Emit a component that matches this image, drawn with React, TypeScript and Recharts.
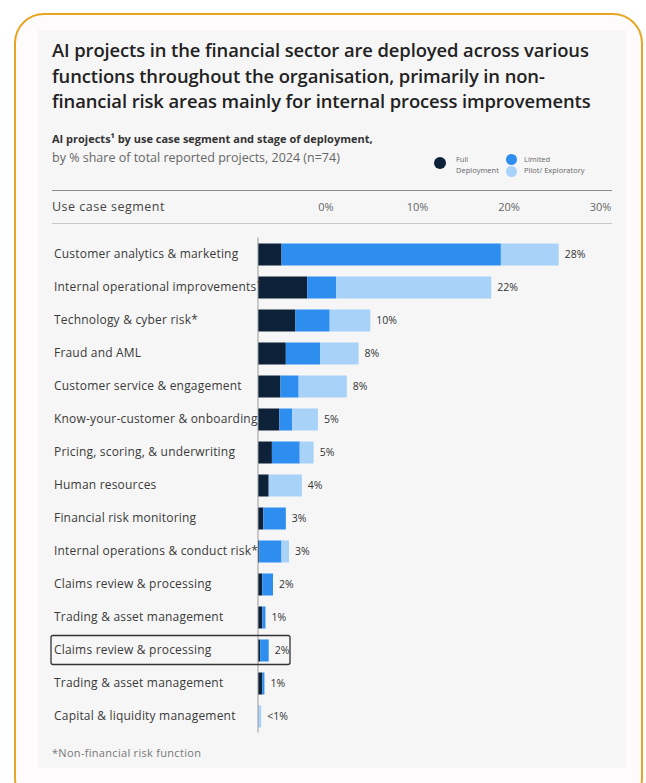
import React from 'react';
import { BarChart, Bar, XAxis, YAxis, LabelList } from 'recharts';

const categories = [
  'Customer analytics & marketing',
  'Internal operational improvements\u00b9',
  'Technology & cyber risk*',
  'Fraud and AML',
  'Customer service & engagement',
  'Know-your-customer & onboarding',
  'Pricing, scoring, & underwriting',
  'Human resources',
  'Financial risk monitoring',
  'Internal operations & conduct risk*',
  'Claims review & processing',
  'Trading & asset management',
  'Claims review & processing',
  'Trading & asset management',
  'Capital & liquidity management',
];

const fullDeployment = [2.2, 4.6, 3.5, 2.6, 2.1, 2.0, 1.3, 1.0, 0.5, 0.1, 0.4, 0.4, 0.2, 0.4, 0];
const limited = [20.5, 2.7, 3.2, 3.2, 1.7, 1.2, 2.6, 0, 2.1, 2.1, 1.0, 0.3, 0.8, 0.2, 0];
const pilot = [5.4, 14.5, 3.8, 3.6, 4.5, 2.4, 1.3, 3.1, 0, 0.7, 0, 0, 0, 0, 0.3];
const totalLabels = ['28%', '22%', '10%', '8%', '8%', '5%', '5%', '4%', '3%', '3%', '2%', '1%', '2%', '1%', '<1%'];
const highlighted = [false, false, false, false, false, false, false, false, false, false, false, false, true, false, false];

const headerTicks = ['0%', '10%', '20%', '30%'];

const series = [
  { key: 'full', name: ['Full', 'Deployment'], color: '#0d2238' },
  { key: 'limited', name: ['Limited'], color: '#2d8ef0' },
  { key: 'pilot', name: ['Pilot/ Exploratory'], color: '#a8d2f8' },
];

const data = categories.map((c, i) => ({
  id: String(i),
  full: fullDeployment[i],
  limited: limited[i],
  pilot: pilot[i],
  label: totalLabels[i],
}));

// which segment is the last non-zero one in a row (the label sits after it)
const lastKey = (row: any) => {
  let k = '';
  series.forEach((s) => {
    if (row[s.key] > 0) k = s.key;
  });
  return k;
};

const FONT = '"Open Sans", "Noto Sans", sans-serif';

const CategoryTick = (props: any) => {
  const { y, payload } = props;
  const i = payload.index;
  return (
    <g>
      {highlighted[i] && (
        <rect x={11} y={y - 14.5} width={239} height={29} fill="none" stroke="#333" strokeWidth={1.3} rx={2} />
      )}
      <text x={14} y={y} dy={4} textAnchor="start" fontSize={12} letterSpacing={0.2} fill="#3a3a3a" fontFamily={FONT}>
        {categories[i]}
      </text>
    </g>
  );
};

export default function App() {
  return (
    <div style={{ position: 'absolute', left: 0, top: 0, width: 646, height: 783, overflow: 'hidden', fontFamily: FONT, background: '#fff' }}>
      <style>{'html,body{overflow:hidden}'}</style>
      <div
        style={{
          position: 'absolute', left: 14, top: 13, width: 629, height: 795,
          border: '2.5px solid #e6a623', borderRadius: 30, boxSizing: 'border-box', background: '#fdfbfb',
        }}
      />
      <div style={{ position: 'absolute', left: 38, top: 30, width: 588, height: 738, background: '#f6f6f6' }} />

      <div style={{ position: 'absolute', left: 52, top: 37, fontSize: 18.4, fontWeight: 600, lineHeight: '25.5px', color: '#222', whiteSpace: 'nowrap', letterSpacing: -0.1 }}>
        AI projects in the financial sector are deployed across various<br />
        functions throughout the organisation, primarily in non-<br />
        financial risk areas mainly for internal process improvements
      </div>

      <div style={{ position: 'absolute', left: 52, top: 131, fontSize: 11, fontWeight: 700, color: '#333', whiteSpace: 'nowrap' }}>
        AI projects¹ by use case segment and stage of deployment,
      </div>
      <div style={{ position: 'absolute', left: 52, top: 149, fontSize: 12.5, color: '#666', whiteSpace: 'nowrap' }}>
        by % share of total reported projects, 2024 (n=74)
      </div>

      {/* legend */}
      <div style={{ position: 'absolute', left: 434, top: 157, width: 12, height: 12, borderRadius: 6, background: series[0].color }} />
      <div style={{ position: 'absolute', left: 456, top: 154, fontSize: 7.5, lineHeight: '11px', color: '#666' }}>
        {series[0].name[0]}<br />{series[0].name[1]}
      </div>
      <div style={{ position: 'absolute', left: 506, top: 154, width: 11, height: 11, borderRadius: 6, background: series[1].color }} />
      <div style={{ position: 'absolute', left: 524, top: 154, fontSize: 7.5, lineHeight: '11px', color: '#666' }}>{series[1].name[0]}</div>
      <div style={{ position: 'absolute', left: 506, top: 166, width: 11, height: 11, borderRadius: 6, background: series[2].color }} />
      <div style={{ position: 'absolute', left: 524, top: 165, fontSize: 7.5, lineHeight: '11px', color: '#666' }}>{series[2].name[0]}</div>

      {/* header row */}
      <div style={{ position: 'absolute', left: 52, top: 190, width: 560, height: 1, background: '#8a8a8a' }} />
      <div style={{ position: 'absolute', left: 52, top: 198, fontSize: 12.5, letterSpacing: 0.5, color: '#444' }}>Use case segment</div>
      {headerTicks.map((t, i) => (
        <div key={t} style={{ position: 'absolute', left: 326 + i * 91.5 - 20, width: 40, textAlign: 'center', top: 199, fontSize: 11, color: '#666' }}>
          {t}
        </div>
      ))}
      <div style={{ position: 'absolute', left: 52, top: 223, width: 560, height: 1, background: '#c8c8c8' }} />

      <div style={{ position: 'absolute', left: 40, top: 230 }}>
        <BarChart width={585} height={510} data={data} layout="vertical" margin={{ top: 7.5, right: 46, bottom: 7.5, left: 0 }} barSize={22}>
          <XAxis type="number" domain={[0, 30]} hide />
          <YAxis
            type="category"
            dataKey="id"
            width={218}
            axisLine={{ stroke: '#9a9a9a' }}
            tickLine={false}
            tick={<CategoryTick />}
            interval={0}
          />
          {series.map((s) => (
            <Bar key={s.key} dataKey={s.key} stackId="a" fill={s.color} isAnimationActive={false}>
              <LabelList
                position="right"
                offset={6}
                fontSize={10.5}
                fill="#333"
                fontFamily={FONT}
                valueAccessor={(entry: any) => (lastKey(entry.payload) === s.key ? entry.payload.label : null)}
              />
            </Bar>
          ))}
        </BarChart>
      </div>

      <div style={{ position: 'absolute', left: 52, top: 745, fontSize: 11, letterSpacing: 0.3, color: '#777' }}>*Non-financial risk function</div>
    </div>
  );
}
